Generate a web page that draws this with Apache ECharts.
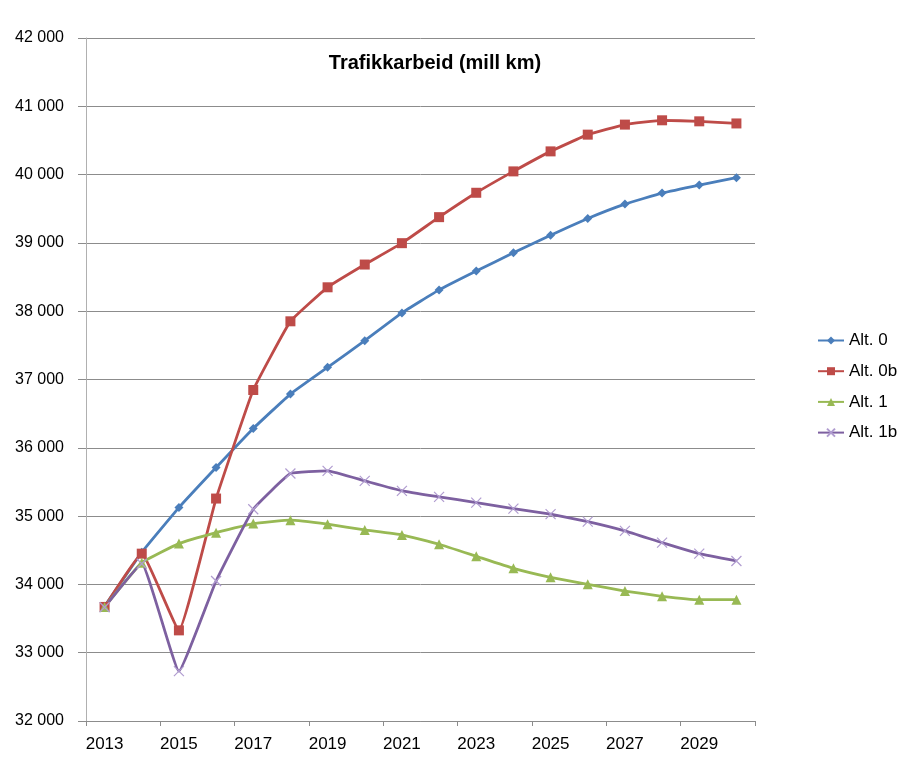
<!DOCTYPE html>
<html>
<head>
<meta charset="utf-8">
<title>Trafikkarbeid (mill km)</title>
<script src="https://cdn.jsdelivr.net/npm/echarts@6/dist/echarts.min.js"></script>
<style>
  html, body { margin: 0; padding: 0; background: #ffffff; }
  #chart { width: 902px; height: 763px; }
</style>
</head>
<body>
<div id="chart"></div>
<script>
// Years on the category axis
const years = ['2013','2014','2015','2016','2017','2018','2019','2020','2021',
               '2022','2023','2024','2025','2026','2027','2028','2029','2030'];

// Traffic volume per scenario (million vehicle-km)
const alt0  = [33680, 34470, 35125, 35711, 36283, 36787, 37178, 37568, 37975,
               38312, 38588, 38855, 39113, 39358, 39568, 39729, 39847, 39955];
const alt0b = [33670, 34450, 33327, 35257, 36846, 37852, 38350, 38683, 38996,
               39377, 39734, 40047, 40340, 40585, 40732, 40795, 40780, 40749];
const alt1  = [33670, 34318, 34597, 34758, 34890, 34940, 34881, 34798, 34724,
               34588, 34412, 34236, 34104, 34001, 33903, 33826, 33776, 33776];
const alt1b = [33665, 34303, 32730, 34050, 35101, 35623, 35663, 35516, 35370,
               35282, 35198, 35110, 35028, 34919, 34783, 34611, 34450, 34343];

const seriesNames = ['Alt. 0', 'Alt. 0b', 'Alt. 1', 'Alt. 1b'];

// Y-axis range and step
const yMin = 32000, yMax = 42000, yStep = 1000;

const FONT = 'Liberation Sans';
const crossPath = 'path://M0,0L10,10M10,0L0,10';

function lineSeries(name, data, color, symbol, size, extraItem) {
  return {
    name: name,
    type: 'line',
    data: data,
    smooth: 0.1,
    symbol: symbol,
    symbolSize: size,
    showAllSymbol: true,
    lineStyle: { color: color, width: 2.8 },
    itemStyle: Object.assign({ color: color }, extraItem || {}),
    emphasis: { disabled: true },
    animation: false
  };
}

const chart = echarts.init(document.getElementById('chart'), null, { renderer: 'canvas' });

chart.setOption({
  backgroundColor: '#ffffff',
  animation: false,
  title: {
    text: 'Trafikkarbeid (mill km)',
    left: 430,
    textAlign: 'center',
    top: 48,
    textStyle: { fontFamily: FONT, fontSize: 20, fontWeight: 'bold', color: '#000000' }
  },
  legend: {
    orient: 'vertical',
    left: 817,
    top: 332,
    padding: 0,
    itemWidth: 26,
    itemHeight: 10,
    itemGap: 13.7,
    textStyle: { fontFamily: FONT, fontSize: 17, lineHeight: 17, color: '#000000' },
    data: seriesNames
  },
  grid: { left: 86, right: 147, top: 38, bottom: 42 },
  xAxis: {
    type: 'category',
    data: years,
    boundaryGap: true,
    axisLine: { lineStyle: { color: '#8c8c8c', width: 1 } },
    axisTick: { show: true, interval: 1, length: 5, lineStyle: { color: '#8c8c8c' } },
    axisLabel: { interval: 1, margin: 15, fontFamily: FONT, fontSize: 17, color: '#000000' },
    splitLine: { show: false }
  },
  yAxis: {
    type: 'value',
    min: yMin,
    max: yMax,
    interval: yStep,
    axisLine: { show: true, lineStyle: { color: '#b0b0b0', width: 1 } },
    axisTick: { show: true, length: 8, lineStyle: { color: '#8c8c8c' } },
    axisLabel: {
      margin: 22,
      fontFamily: FONT,
      fontSize: 16,
      color: '#000000',
      formatter: function (v) {
        const s = String(v);
        return s.slice(0, s.length - 3) + ' ' + s.slice(-3);
      }
    },
    splitLine: { show: true, lineStyle: { color: '#8c8c8c', width: 1 } }
  },
  series: [
    lineSeries(seriesNames[0], alt0, '#4a7ebb', 'diamond', 9),
    lineSeries(seriesNames[1], alt0b, '#be4b48', 'rect', 10),
    lineSeries(seriesNames[2], alt1, '#98b954', 'triangle', 10),
    lineSeries(seriesNames[3], alt1b, '#7d60a0', crossPath, 10,
               { color: '#b09cd0', borderColor: '#b09cd0', borderWidth: 1.2 })
  ]
});
</script>
</body>
</html>
